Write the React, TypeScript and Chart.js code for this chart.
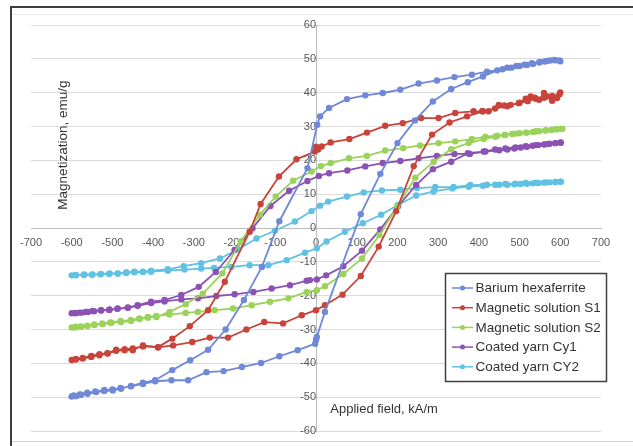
import React, { useEffect, useRef } from "react";
import { Chart, registerables } from "chart.js";

Chart.register(...registerables);

const FONT = "'Liberation Sans', Arial, sans-serif";

const seriesNames = [
  "Barium hexaferrite",
  "Magnetic solution S1",
  "Magnetic solution S2",
  "Coated yarn Cy1",
  "Coated yarn CY2",
];
const seriesColors = ["#7088d8", "#c8433a", "#9ad25a", "#8c52b3", "#5fc2e2"];

const xTickMin = -700;
const xTickMax = 700;
const xTickStep = 100;
const yTickMin = -60;
const yTickMax = 60;
const yTickStep = 10;

const xAxisTitle = "Applied field, kA/m";
const yAxisTitle = "Magnetization, emu/g";

// Hysteresis loops: descending branch (+600 -> -600) then ascending branch (-600 -> +600)
const bariumHexaferrite: [number, number][] = [
  [600, 49.3], [588, 49.6], [575, 49.5], [562, 49.2], [548, 48.9], [533, 48.5], [518, 48.2], [500, 47.9],
  [480, 47.4], [458, 46.9], [420, 46.2], [383, 45.3], [340, 44.6], [297, 43.6], [252, 42.7], [207, 40.9],
  [164, 39.9], [121, 39.2], [76, 38.1], [32, 35.5], [10, 33], [3, 30.5], [-21, 17.7], [-90, 2],
  [-133, -11.5], [-177, -21.3], [-222, -30], [-265, -36], [-309, -39.1], [-353, -42], [-395, -45],
  [-425, -45.7], [-454, -46.7], [-479, -47.5], [-499, -48], [-520, -48.2], [-540, -48.5], [-561, -49],
  [-577, -49.3], [-589, -49.7], [-600, -49.8],
  [-595, -49.5], [-580, -49.2], [-562, -48.7], [-542, -48.3], [-520, -47.9], [-500, -47.7], [-480, -47.3],
  [-455, -46.8], [-425, -46.1], [-395, -45.3], [-355, -45], [-314, -45], [-269, -42.6], [-227, -42.3],
  [-182, -41.1], [-135, -39.9], [-90, -37.9], [-45, -36.1], [-2, -34.2], [0, -33], [2, -32.2], [22, -24.8],
  [110, 4.1], [158, 16], [200, 25.1], [243, 31.8], [287, 37.4], [332, 41.1], [373, 43.1], [410, 44.8],
  [445, 46.6], [470, 47.4], [492, 47.9], [512, 48.3], [530, 48.7], [550, 49.1], [568, 49.4], [585, 49.7],
  [598, 49.5],
];

const magneticSolutionS1: [number, number][] = [
  [600, 40.1], [592, 38.4], [580, 37.6], [568, 38.9], [560, 39.9], [548, 37.9], [537, 38.5], [527, 38.9],
  [515, 38.2], [498, 36.9], [478, 36.4], [462, 36.2], [449, 36.4], [424, 34.5], [408, 34.5], [387, 34.5],
  [342, 34], [301, 32.5], [258, 32.5], [213, 31], [170, 30.2], [125, 28.2], [82, 26.3], [36, 25.3],
  [14, 24.1], [5, 23.2], [0, 24], [-3, 22.6], [-48, 20.3], [-91, 15.2], [-136, 7.1], [-163, -1.1],
  [-224, -15.9], [-265, -24.3], [-310, -29], [-353, -32.7], [-388, -35.2], [-425, -34.7], [-450, -36.1],
  [-470, -36.1], [-491, -36.3], [-512, -37.1], [-532, -37.6], [-552, -38.1], [-573, -38.6], [-590, -38.9],
  [-600, -39],
  [-590, -38.7], [-573, -38.4], [-552, -37.8], [-532, -37.3], [-512, -37], [-491, -36], [-470, -35.8],
  [-450, -35.6], [-425, -35], [-388, -35.3], [-351, -34.7], [-304, -33.7], [-261, -32.4], [-216, -32.4],
  [-171, -30], [-127, -27.8], [-81, -28.2], [-35, -25.8], [0, -24.3], [22, -22.8], [65, -19.7],
  [110, -14.2], [154, -5.5], [197, 5], [240, 18.3], [285, 27.6], [328, 31.2], [371, 33], [410, 34.5],
  [440, 35.3], [470, 36], [500, 37], [520, 37.5], [540, 38.2], [560, 38.5], [580, 39], [598, 39.5],
];

const magneticSolutionS2: [number, number][] = [
  [605, 29.3], [592, 29.2], [578, 29], [563, 28.8], [548, 28.6], [533, 28.4], [518, 28.2], [500, 28],
  [482, 27.8], [463, 27.5], [445, 27.3], [416, 27], [383, 26.3], [342, 25.6], [301, 25.1], [256, 24.4],
  [214, 23.6], [170, 22.9], [125, 21.3], [81, 20.6], [36, 19.2], [12, 18.3], [-11, 16.7], [-56, 14],
  [-99, 9.3], [-138, 3.9], [-185, -4], [-230, -13.4], [-278, -19.4], [-320, -22.5], [-360, -24.8],
  [-392, -26.3], [-413, -26.5], [-433, -26.9], [-454, -27.5], [-479, -27.8], [-503, -28], [-524, -28.4],
  [-544, -28.7], [-561, -29], [-577, -29.2], [-590, -29.2], [-600, -29.4],
  [-592, -29.4], [-578, -29.1], [-562, -28.9], [-545, -28.5], [-525, -28.2], [-505, -27.9], [-480, -27.5],
  [-455, -27.2], [-434, -26.7], [-413, -26.3], [-392, -26], [-360, -25.6], [-320, -25.1], [-290, -24.8],
  [-249, -24.3], [-204, -23.8], [-158, -22.8], [-113, -21.8], [-68, -20.8], [-23, -18.9], [2, -18.4],
  [22, -17.2], [67, -13.6], [113, -9], [156, -2.1], [200, 6.5], [244, 14.9], [289, 19.6], [332, 23.3],
  [375, 25.1], [412, 26.3], [440, 27], [465, 27.5], [490, 27.9], [515, 28.2], [540, 28.6], [565, 28.9],
  [588, 29.2], [603, 29.3],
];

const coatedYarnCy1: [number, number][] = [
  [601, 25.3], [588, 25.1], [574, 24.9], [560, 24.7], [546, 24.5], [532, 24.3], [518, 24], [503, 23.8],
  [487, 23.5], [470, 23.2], [450, 23], [416, 22.6], [378, 21.9], [340, 21.9], [297, 21.3], [252, 20.6],
  [207, 19.8], [164, 19.2], [121, 18.2], [77, 17], [32, 16.2], [7, 15.4], [-21, 13.9], [-66, 11],
  [-112, 6.5], [-156, -0.1], [-200, -6.5], [-246, -13], [-288, -17.4], [-331, -19.8], [-372, -21.3],
  [-405, -21.8], [-438, -22.8], [-462, -23.5], [-487, -23.8], [-507, -24.1], [-528, -24.3], [-549, -24.5],
  [-565, -24.8], [-581, -25], [-591, -25.1], [-600, -25.2],
  [-590, -25.2], [-575, -25], [-560, -24.8], [-545, -24.6], [-528, -24.4], [-508, -24.2], [-488, -23.9],
  [-462, -23.6], [-438, -23], [-405, -22.2], [-372, -21.7], [-331, -21.1], [-290, -20.8], [-245, -20.1],
  [-200, -19.6], [-154, -18.9], [-109, -17.9], [-64, -16.9], [-23, -15.6], [-15, -15.4], [2, -15.2],
  [25, -14], [67, -11.3], [113, -6.7], [158, -0.4], [202, 6.5], [246, 12.7], [287, 17.4], [332, 19.6],
  [373, 22.1], [412, 22.6], [440, 23.2], [465, 23.5], [490, 23.8], [515, 24.2], [540, 24.5], [565, 24.8],
  [588, 25.1], [601, 25.2],
];

const coatedYarnCY2: [number, number][] = [
  [601, 13.7], [588, 13.6], [574, 13.5], [560, 13.4], [546, 13.3], [532, 13.2], [518, 13.1], [503, 13],
  [487, 12.9], [470, 12.8], [450, 12.8], [420, 12.8], [379, 12.7], [338, 12.1], [293, 12.1], [248, 11.8],
  [207, 11.3], [162, 11.1], [117, 10.5], [76, 9.3], [30, 7.8], [10, 6.6], [-11, 5], [-52, 1.9],
  [-101, -0.8], [-146, -3.1], [-191, -6.3], [-236, -9], [-282, -10.4], [-325, -11.3], [-364, -12.2],
  [-405, -12.6], [-425, -12.9], [-446, -12.9], [-466, -13.1], [-487, -13.4], [-507, -13.4], [-528, -13.6],
  [-549, -13.7], [-569, -13.7], [-590, -13.9], [-600, -14],
  [-590, -14], [-570, -13.9], [-550, -13.8], [-530, -13.7], [-508, -13.6], [-487, -13.5], [-466, -13.3],
  [-446, -13.1], [-425, -13], [-405, -12.9], [-364, -12.6], [-323, -12.3], [-282, -12], [-250, -11.8],
  [-208, -11.5], [-163, -11], [-117, -11], [-72, -9.5], [-27, -7.3], [2, -6], [26, -4], [71, -1.1],
  [115, 1.4], [160, 3.9], [201, 6.8], [246, 9.6], [289, 10.8], [335, 11.7], [375, 12.2], [410, 12.5],
  [440, 12.8], [465, 13], [490, 13.1], [515, 13.3], [540, 13.4], [565, 13.5], [588, 13.6], [601, 13.7],
];

const seriesData = [bariumHexaferrite, magneticSolutionS1, magneticSolutionS2, coatedYarnCy1, coatedYarnCY2];

const framePlugin = {
  id: "frame",
  beforeDraw(chart: any) {
    const ctx = chart.ctx;
    ctx.save();
    ctx.fillStyle = "#ffffff";
    ctx.fillRect(0, 0, chart.width, chart.height);
    ctx.strokeStyle = "#e8e8e8";
    ctx.lineWidth = 1;
    ctx.beginPath();
    ctx.moveTo(12, 14.5);
    ctx.lineTo(chart.width, 14.5);
    ctx.stroke();
    ctx.strokeStyle = "#e3cfcf";
    ctx.beginPath();
    ctx.moveTo(12, 441.5);
    ctx.lineTo(chart.width, 441.5);
    ctx.stroke();
    ctx.strokeStyle = "#3d3d3d";
    ctx.lineWidth = 2;
    ctx.beginPath();
    ctx.moveTo(11, chart.height);
    ctx.lineTo(11, 7);
    ctx.lineTo(chart.width, 7);
    ctx.stroke();
    ctx.restore();
  },
};

const textPlugin = {
  id: "texts",
  afterDraw(chart: any) {
    const ctx = chart.ctx;
    const xs = chart.scales.x;
    const ys = chart.scales.y;
    ctx.save();
    ctx.fillStyle = "#333333";
    ctx.font = `13px ${FONT}`;
    ctx.textAlign = "left";
    ctx.textBaseline = "middle";
    ctx.fillText(xAxisTitle, xs.getPixelForValue(35), ys.getPixelForValue(-53.5));
    ctx.save();
    ctx.translate(xs.getPixelForValue(-620), ys.getPixelForValue(24.5));
    ctx.rotate(-Math.PI / 2);
    ctx.textAlign = "center";
    ctx.font = `13.5px ${FONT}`;
    ctx.fillText(yAxisTitle, 0, 0);
    ctx.restore();

    // legend box
    const bx = 445.5, by = 273.5, bw = 161, bh = 108;
    ctx.fillStyle = "#ffffff";
    ctx.fillRect(bx, by, bw, bh);
    ctx.strokeStyle = "#404040";
    ctx.lineWidth = 1.5;
    ctx.strokeRect(bx, by, bw, bh);
    seriesNames.forEach((name, i) => {
      const cy = 288 + i * 19.7;
      ctx.strokeStyle = seriesColors[i];
      ctx.lineWidth = 1.5;
      ctx.beginPath();
      ctx.moveTo(452, cy);
      ctx.lineTo(473, cy);
      ctx.stroke();
      ctx.fillStyle = seriesColors[i];
      ctx.beginPath();
      ctx.arc(462.5, cy, 2.5, 0, Math.PI * 2);
      ctx.fill();
      ctx.fillStyle = "#333333";
      ctx.font = `13.5px ${FONT}`;
      ctx.textAlign = "left";
      ctx.fillText(name, 475.5, cy + 0.5);
    });
    ctx.restore();
  },
};

export default function App() {
  const canvasRef = useRef<HTMLCanvasElement | null>(null);

  useEffect(() => {
    const canvas = canvasRef.current;
    if (!canvas) return;
    const chart = new Chart(canvas, {
      type: "scatter",
      data: {
        datasets: seriesData.map((pts, i) => ({
          label: seriesNames[i],
          data: pts.map(([x, y]) => ({ x, y })),
          showLine: true,
          borderColor: seriesColors[i],
          backgroundColor: seriesColors[i],
          borderWidth: 1.8,
          pointRadius: 3.2,
          pointBorderWidth: 0,
          pointHoverRadius: 3.2,
          tension: 0,
        })),
      },
      plugins: [framePlugin, textPlugin],
      options: {
        animation: false,
        responsive: false,
        maintainAspectRatio: false,
        events: [],
        layout: { padding: { left: 31, right: 32, top: 25, bottom: 15 } },
        plugins: {
          legend: { display: false },
          tooltip: { enabled: false },
          title: { display: false },
        },
        scales: {
          x: {
            type: "linear",
            min: xTickMin,
            max: xTickMax,
            position: { y: 0 } as any,
            afterFit: (s: any) => {
              s.height = 0;
            },
            ticks: {
              stepSize: xTickStep,
              autoSkip: false,
              maxRotation: 0,
              padding: 8,
              color: "#575757",
              font: { family: FONT, size: 11 },
            },
            grid: { display: true, drawOnChartArea: false, drawTicks: false },
            border: { display: true, color: "#bcbcbc", width: 1 },
          },
          y: {
            type: "linear",
            min: yTickMin,
            max: yTickMax,
            position: { x: 0 } as any,
            afterFit: (s: any) => {
              s.width = 0;
            },
            ticks: {
              stepSize: yTickStep,
              autoSkip: false,
              padding: 7,
              color: "#575757",
              font: { family: FONT, size: 11 },
            },
            grid: { color: "#dcdcdc", drawTicks: false, lineWidth: 1 },
            border: { display: true, color: "#bcbcbc", width: 1 },
          },
        },
      },
    });
    return () => chart.destroy();
  }, []);

  return (
    <div style={{ position: "fixed", left: 0, top: 0, width: 633, height: 446, background: "#fff" }}>
      <canvas ref={canvasRef} width={633} height={446} style={{ width: 633, height: 446, display: "block" }} />
    </div>
  );
}
